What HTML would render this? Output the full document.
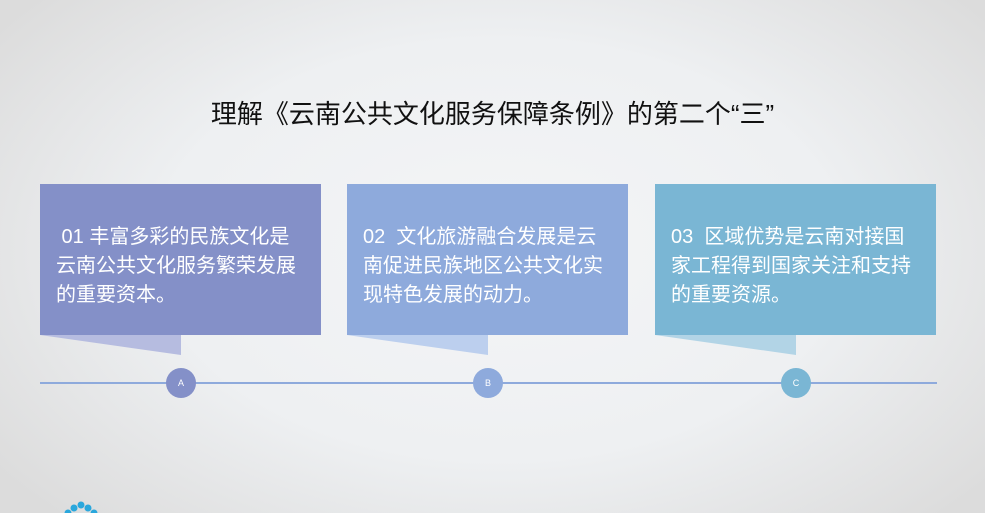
<!DOCTYPE html>
<html><head><meta charset="utf-8"><style>
body{margin:0;width:985px;height:513px;overflow:hidden;position:relative;
background:radial-gradient(ellipse 620px 380px at 500px 250px,#f4f5f6 0%,#eef0f2 55%,#dcdcdc 100%);
font-family:"Liberation Sans","Noto Sans CJK SC",sans-serif;}
.t{position:absolute;left:0;width:985px;top:94px;text-align:center;font-size:26px;color:#111;white-space:nowrap;}
.b{position:absolute;top:184px;width:281px;height:151px;color:#fff;font-size:20px;line-height:29px;box-sizing:border-box;padding:39px 18px 0 16px;}
.c{position:absolute;top:368px;width:30px;height:30px;border-radius:50%;color:#fff;font-size:9px;text-align:center;line-height:30px;}
</style></head><body>
<div class="t">理解《云南公共文化服务保障条例》的第二个“三”</div>
<div style="position:absolute;left:40px;top:382px;width:897px;height:2px;background:#8eaadc"></div>
<svg width="985" height="513" style="position:absolute;left:0;top:0">
<polygon points="40,335 181,355 181,335" fill="#b6bce0"/>
<polygon points="347,335 488,355 488,335" fill="#bccfee"/>
<polygon points="655,335 796,355 796,335" fill="#b2d4e6"/>
<g fill="#2aa7dc"><circle cx="81" cy="505" r="3.5"/><circle cx="74" cy="508" r="3.5"/><circle cx="88" cy="508" r="3.5"/><circle cx="68" cy="513" r="3.5"/><circle cx="94" cy="513" r="3.5"/></g>
</svg>
<div class="b" style="left:40px;background:#8490c8">&nbsp;01 丰富多彩的民族文化是云南公共文化服务繁荣发展的重要资本。</div>
<div class="b" style="left:347px;background:#8eaadc">02&nbsp; 文化旅游融合发展是云南促进民族地区公共文化实现特色发展的动力。</div>
<div class="b" style="left:655px;background:#7ab6d4">03&nbsp; 区域优势是云南对接国家工程得到国家关注和支持的重要资源。</div>
<div class="c" style="left:166px;background:#8490c8">A</div>
<div class="c" style="left:473px;background:#8eaadc">B</div>
<div class="c" style="left:781px;background:#7ab6d4">C</div>
</body></html>
